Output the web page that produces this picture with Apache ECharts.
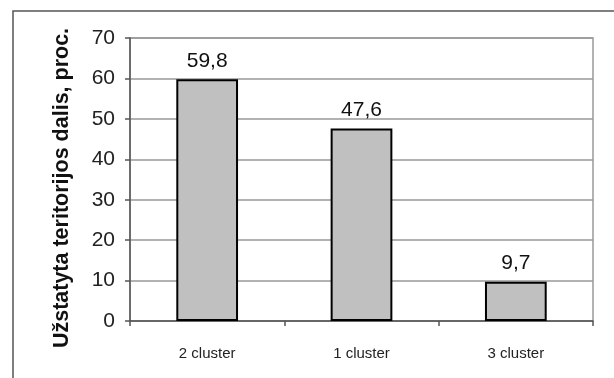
<!DOCTYPE html>
<html>
<head>
<meta charset="utf-8">
<script src="https://cdn.jsdelivr.net/npm/echarts@6/dist/echarts.min.js"></script>
<style>
  html, body { margin: 0; padding: 0; background: #fff; }
  #chart { width: 614px; height: 378px; }
</style>
</head>
<body>
<div id="chart"></div>
<script>
const categories = ['2 cluster', '1 cluster', '3 cluster'];
const values = [59.8, 47.6, 9.7];
const yTicks = [0, 10, 20, 30, 40, 50, 60, 70];
const yTitle = 'Užstatyta teritorijos dalis, proc.';

const chart = echarts.init(document.getElementById('chart'), null, { renderer: 'canvas' });
const font = 'Arial, "Liberation Sans", sans-serif';

chart.setOption({
  animation: false,
  backgroundColor: '#ffffff',
  graphic: [
    {
      type: 'polyline',
      shape: { points: [[13, 378], [13, 11], [614, 11]] },
      style: { stroke: '#555', lineWidth: 1.5, fill: null }
    }
  ],
  grid: {
    left: 130, top: 38, right: 21, bottom: 57,
    show: true, borderColor: '#999', borderWidth: 1.5, backgroundColor: 'transparent'
  },
  xAxis: {
    type: 'category',
    data: categories,
    axisLine: { lineStyle: { color: '#555', width: 1.5 } },
    axisTick: { show: true, alignWithLabel: false, length: 5, lineStyle: { color: '#555', width: 1.5 } },
    axisLabel: { color: '#222', fontFamily: font, fontSize: 15, margin: 25 }
  },
  yAxis: {
    type: 'value',
    min: yTicks[0],
    max: yTicks[yTicks.length - 1],
    interval: 10,
    name: yTitle,
    nameLocation: 'middle',
    nameGap: 57,
    nameTextStyle: { color: '#111', fontFamily: font, fontSize: 21.5, fontWeight: 'bold', padding: [0, 0, 0, -17] },
    axisLine: { show: true, lineStyle: { color: '#555', width: 1.5 } },
    axisTick: { show: true, length: 5, lineStyle: { color: '#555', width: 1.5 } },
    axisLabel: { color: '#222', fontFamily: font, fontSize: 21, margin: 15 },
    splitLine: { show: true, lineStyle: { color: '#999', width: 1.5 } }
  },
  series: [
    {
      type: 'bar',
      data: values,
      barWidth: '40%',
      itemStyle: { color: '#c0c0c0', borderColor: '#000', borderWidth: 2 },
      label: {
        show: true,
        position: 'top',
        distance: 8,
        color: '#111',
        fontFamily: font,
        fontSize: 21,
        formatter: p => String(p.value).replace('.', ',')
      }
    }
  ]
});
</script>
</body>
</html>
